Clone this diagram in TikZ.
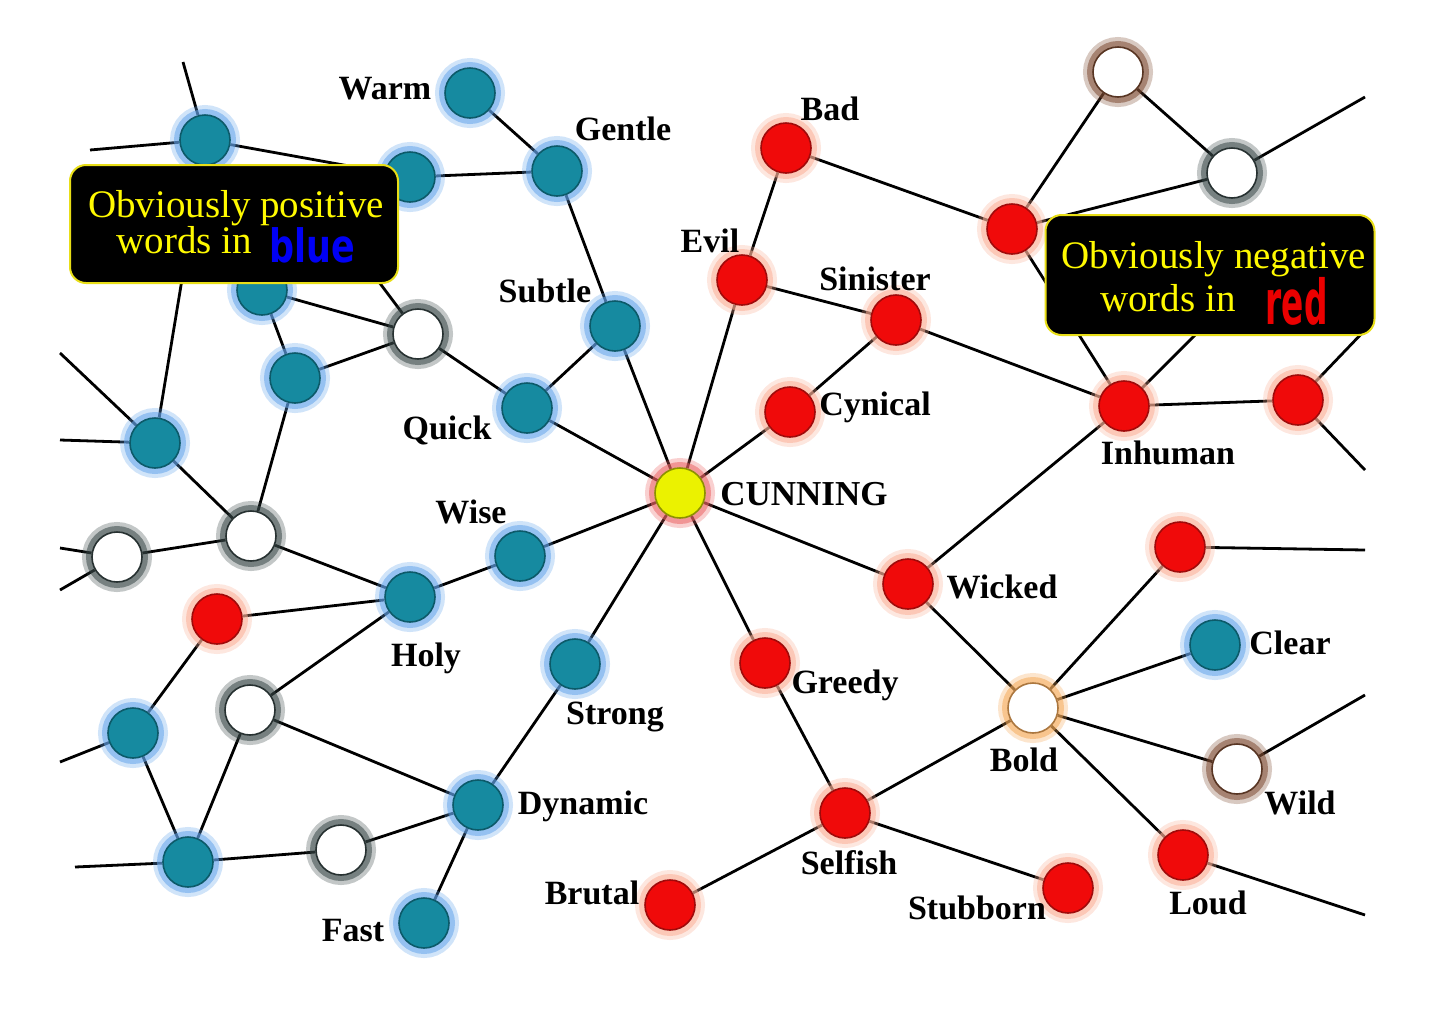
\documentclass[tikz,border=0pt]{standalone}
\usepackage{graphicx}
\usepackage{fontspec}
\setmainfont{Liberation Serif}
\newfontfamily\heavyfont{DejaVu Sans}
\usetikzlibrary{backgrounds}

\definecolor{posfill}{RGB}{22,138,160}
\definecolor{posrim}{RGB}{12,90,105}
\definecolor{posglow}{RGB}{100,165,235}
\definecolor{negfill}{RGB}{240,10,10}
\definecolor{negrim}{RGB}{160,10,10}
\definecolor{negglow}{RGB}{250,175,150}
\definecolor{greyglow}{RGB}{55,70,70}
\definecolor{brownglow}{RGB}{125,75,50}
\definecolor{orangeglow}{RGB}{245,170,90}
\definecolor{cunfill}{RGB}{235,242,0}
\definecolor{cunglow}{RGB}{235,100,100}
\definecolor{notetext}{RGB}{255,250,0}
\definecolor{noteblue}{RGB}{0,0,245}
\definecolor{notered}{RGB}{235,0,0}

\tikzset{
  glow/.style={preaction={draw=#1, draw opacity=0.3, line width=10pt},
               preaction={draw=#1, draw opacity=0.55, line width=6pt}},
  word/.style={circle, minimum size=25pt, inner sep=0pt, line width=0.8pt},
  posword/.style={word, fill=posfill, draw=posrim, glow=posglow},
  negword/.style={word, fill=negfill, draw=negrim, glow=negglow},
  openword/.style={word, fill=white, draw=#1!70!black, glow=#1},
  openword/.default=greyglow,
  lbl/.style={font=\bfseries\fontsize{17}{17}\selectfont, inner sep=0pt,
              text height=11.25pt, text depth=0pt},
  link/.style={line width=1.4pt, black},
  notebox/.style={draw=yellow!90!black, line width=1pt, fill=black,
                  rounded corners=8pt, minimum width=164pt, minimum height=59pt},
  note/.style={text=notetext, align=center, inner sep=0pt,
               font=\fontsize{19.5}{18}\selectfont}
}

\begin{document}
\begin{tikzpicture}[x=0.5pt, y=-0.5pt]
  \useasboundingbox (0,0) rectangle (1440,1018);

  % positive words
  \node[posword] (warm) at (470,93) {};
  \node[posword] (gentle) at (557,171) {};
  \node[posword] (p1) at (205,140) {};
  \node[posword] (p2) at (410,177) {};
  \node[posword] (p3) at (262,290) {};
  \node[posword] (p4) at (295,378) {};
  \node[posword] (p5) at (155,443) {};
  \node[posword] (subtle) at (615,326) {};
  \node[posword] (quick) at (527,408) {};
  \node[posword] (wise) at (520,556) {};
  \node[posword] (holy) at (410,597) {};
  \node[posword] (strong) at (575,664) {};
  \node[posword] (dynamic) at (478,805) {};
  \node[posword] (fast) at (424,923) {};
  \node[posword] (p6) at (133,733) {};
  \node[posword] (p7) at (188,862) {};
  \node[posword] (clear) at (1215,645) {};

  % neutral words
  \node[openword] (o1) at (418,334) {};
  \node[openword] (o2) at (251,536) {};
  \node[openword] (o3) at (117,557) {};
  \node[openword] (o4) at (250,710) {};
  \node[openword] (o5) at (341,850) {};
  \node[openword=brownglow] (o6) at (1118,72) {};
  \node[openword] (o7) at (1232,173) {};
  \node[openword=orangeglow] (bold) at (1033,708) {};
  \node[openword=brownglow] (wild) at (1237,769) {};

  % negative words
  \node[negword] (bad) at (786,148) {};
  \node[negword] (evil) at (742,280) {};
  \node[negword] (sinister) at (896,320) {};
  \node[negword] (cynical) at (790,412) {};
  \node[negword] (n1) at (1012,229) {};
  \node[negword] (inhuman) at (1124,406) {};
  \node[negword] (n2) at (1298,400) {};
  \node[negword] (wicked) at (908,584) {};
  \node[negword] (n3) at (1180,547) {};
  \node[negword] (greedy) at (765,663) {};
  \node[negword] (selfish) at (845,813) {};
  \node[negword] (brutal) at (670,905) {};
  \node[negword] (stubborn) at (1068,888) {};
  \node[negword] (loud) at (1183,855) {};
  \node[negword] (n4) at (217,619) {};

  % the centre word
  \node[word, fill=cunfill, draw=cunfill!60!black, glow=cunglow] (cunning) at (680,493) {};

  % word labels
  \node[lbl] (warm-l) at (385,88) {Warm};
  \node[lbl] (gentle-l) at (623,129) {Gentle};
  \node[lbl] (subtle-l) at (545,291) {Subtle};
  \node[lbl] (quick-l) at (447,428) {Quick};
  \node[lbl] (wise-l) at (471,512) {Wise};
  \node[lbl] (holy-l) at (426,655) {Holy};
  \node[lbl] (strong-l) at (615,713) {Strong};
  \node[lbl] (dynamic-l) at (583,803) {Dynamic};
  \node[lbl] (fast-l) at (353,930) {Fast};
  \node[lbl] (clear-l) at (1290,643) {Clear};
  \node[lbl, font=\bfseries\fontsize{17.5}{17.5}\selectfont] (cunning-l) at (804,494) {CUNNING};
  \node[lbl] (bad-l) at (830,109) {Bad};
  \node[lbl] (evil-l) at (710,241) {Evil};
  \node[lbl] (sinister-l) at (875,279) {Sinister};
  \node[lbl] (cynical-l) at (875,404) {Cynical};
  \node[lbl] (inhuman-l) at (1168,453) {Inhuman};
  \node[lbl] (wicked-l) at (1002,587) {Wicked};
  \node[lbl] (greedy-l) at (845,682) {Greedy};
  \node[lbl] (selfish-l) at (849,863) {Selfish};
  \node[lbl] (brutal-l) at (592,893) {Brutal};
  \node[lbl] (stubborn-l) at (977,908) {Stubborn};
  \node[lbl] (bold-l) at (1024,760) {Bold};
  \node[lbl] (wild-l) at (1300,803) {Wild};
  \node[lbl] (loud-l) at (1208,903) {Loud};

  % loose ends
  \coordinate (e1) at (183,62);
  \coordinate (e2) at (90,150);
  \coordinate (e3) at (60,440);
  \coordinate (e4) at (60,353);
  \coordinate (e5) at (60,548);
  \coordinate (e6) at (60,590);
  \coordinate (e7) at (60,762);
  \coordinate (e8) at (75,867);
  \coordinate (e9) at (1365,97);
  \coordinate (e10) at (1365,470);
  \coordinate (e11) at (1365,550);
  \coordinate (e12) at (1365,695);
  \coordinate (e13) at (1365,915);
  \coordinate (e14) at (1365,330);
  \coordinate (h1) at (340,230);
  \coordinate (h2) at (1215,315);

  \begin{scope}[on background layer]
    % links from the centre
    \draw[link] (cunning) -- (quick);
    \draw[link] (cunning) -- (subtle);
    \draw[link] (cunning) -- (evil);
    \draw[link] (cunning) -- (cynical);
    \draw[link] (cunning) -- (wise);
    \draw[link] (cunning) -- (strong);
    \draw[link] (cunning) -- (greedy);
    \draw[link] (cunning) -- (wicked);

    % left side
    \draw[link] (e1) -- (p1) -- (e2);
    \draw[link] (p1) -- (p2) -- (gentle) -- (warm);
    \draw[link] (gentle) -- (subtle) -- (quick) -- (o1);
    \draw[link] (o1) -- (h1);
    \draw[link] (p3) -- (o1) -- (p4) -- (p3);
    \draw[link] (p1) -- (p5) -- (e3);
    \draw[link] (e4) -- (p5) -- (o2);
    \draw[link] (p4) -- (o2) -- (o3);
    \draw[link] (e5) -- (o3) -- (e6);
    \draw[link] (o2) -- (holy) -- (wise);
    \draw[link] (holy) -- (n4) -- (p6) -- (e7);
    \draw[link] (holy) -- (o4) -- (dynamic);
    \draw[link] (p6) -- (p7) -- (o4);
    \draw[link] (e8) -- (p7) -- (o5) -- (dynamic);
    \draw[link] (strong) -- (dynamic) -- (fast);

    % right side
    \draw[link] (evil) -- (bad) -- (n1);
    \draw[link] (evil) -- (sinister) -- (cynical);
    \draw[link] (sinister) -- (inhuman);
    \draw[link] (n1) -- (o6) -- (o7) -- (n1);
    \draw[link] (o7) -- (e9);
    \draw[link] (n1) -- (inhuman) -- (h2);
    \draw[link] (inhuman) -- (n2) -- (e14);
    \draw[link] (n2) -- (e10);
    \draw[link] (wicked) -- (inhuman);
    \draw[link] (wicked) -- (bold) -- (n3) -- (e11);
    \draw[link] (bold) -- (clear);
    \draw[link] (bold) -- (wild) -- (e12);
    \draw[link] (bold) -- (loud) -- (e13);
    \draw[link] (bold) -- (selfish);
    \draw[link] (greedy) -- (selfish) -- (brutal);
    \draw[link] (selfish) -- (stubborn);
  \end{scope}

  % notes
  \node[notebox] (posbox) at (234,224) {};
  \node[note] (posnote) at (236,222) {Obviously positive\\
    words in\hspace{9pt}\raisebox{-4.5pt}[0pt][0pt]{\scalebox{0.76}[1]{\heavyfont\bfseries\fontsize{23}{23}\selectfont\color{noteblue}blue}}};
  \node[notebox, minimum width=164.5pt, minimum height=60pt] (negbox) at (1210,275) {};
  \node[note, font=\fontsize{19.5}{21.5}\selectfont] (negnote) at (1214,277) {Obviously negative\\
    words in\hspace{15pt}\raisebox{-6.5pt}[0pt][0pt]{\scalebox{0.53}[1]{\heavyfont\bfseries\fontsize{31}{31}\selectfont\color{notered}red}}};
\end{tikzpicture}
\end{document}
